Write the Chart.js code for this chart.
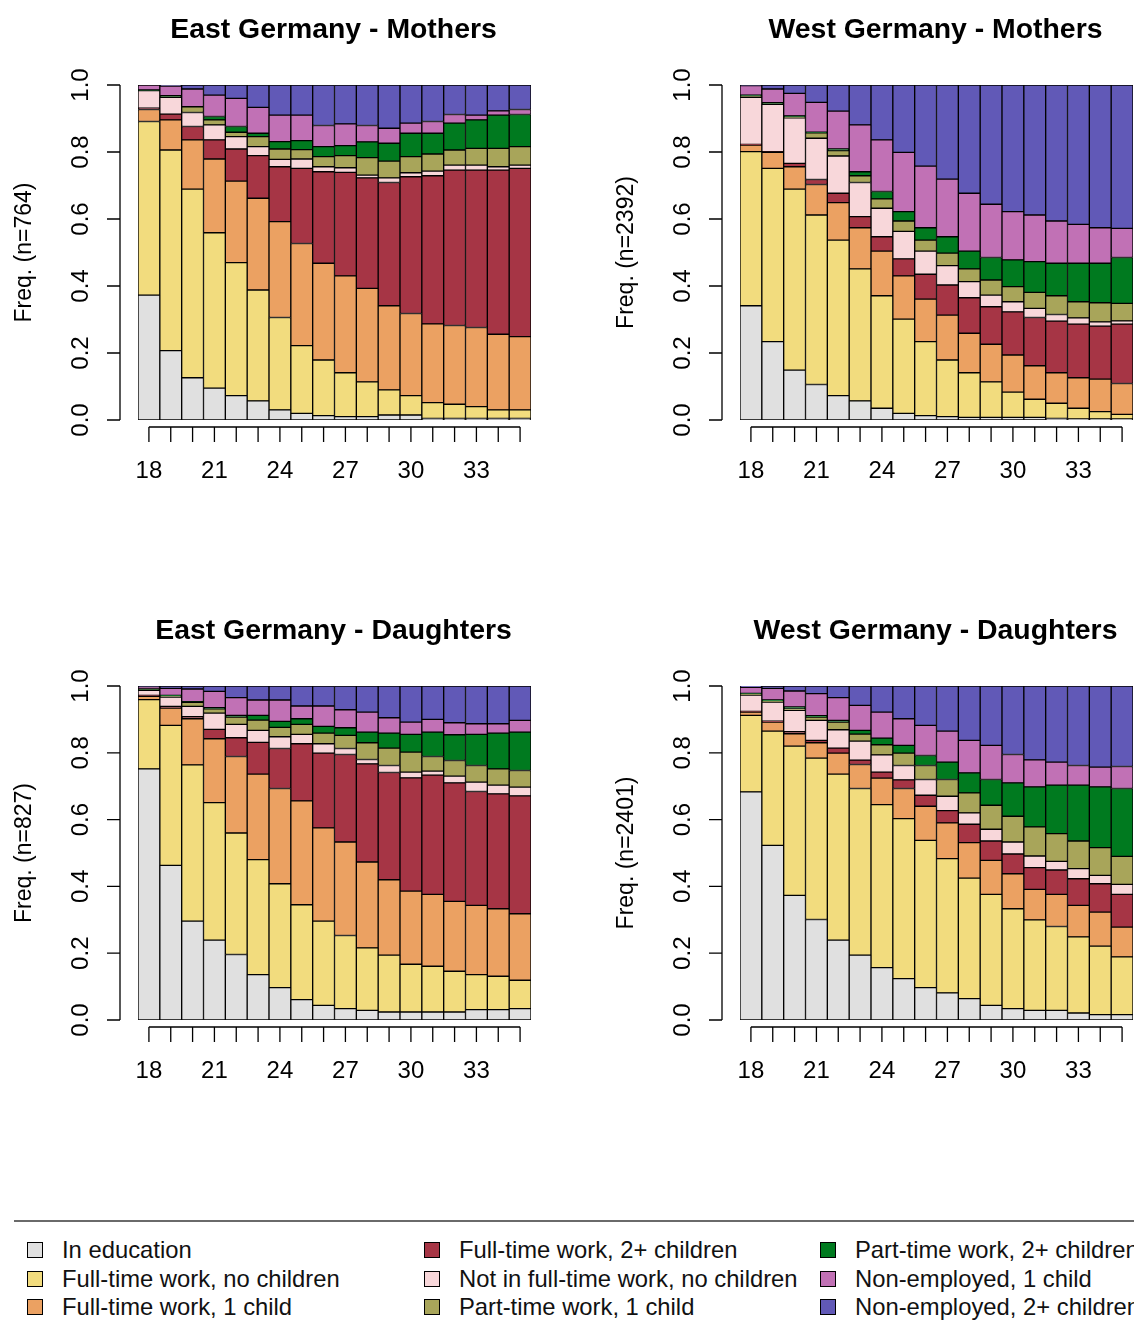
<!DOCTYPE html>
<html>
<head>
<meta charset="utf-8">
<script src="https://cdn.jsdelivr.net/npm/chart.js@4.4.1/dist/chart.umd.min.js"></script>
<style>
  html, body { margin: 0; padding: 0; background: #fff; }
  body { width: 1134px; height: 1325px; position: relative; overflow: hidden;
         font-family: "Liberation Sans", Arial, sans-serif; }
  canvas.panel { position: absolute; }
  #legendLine { position: absolute; left: 14px; top: 1220px; width: 1120px; height: 2px; background: #6a6a6a; }
  .lg { position: absolute; white-space: nowrap; font-size: 23.8px; line-height: 26px; color: #111; }
  .lgbox { position: absolute; width: 14px; height: 14px; border: 1px solid #000; }
</style>
</head>
<body>
<canvas class="panel" id="pEM" width="567" height="600" style="left:0;top:0"></canvas>
<canvas class="panel" id="pWM" width="567" height="600" style="left:567px;top:0"></canvas>
<canvas class="panel" id="pED" width="567" height="600" style="left:0;top:601px"></canvas>
<canvas class="panel" id="pWD" width="567" height="600" style="left:567px;top:601px"></canvas>
<div id="legendLine"></div>
<div id="legend"></div>
<script>
// ---------- categories & labels ----------
const ages = ['18','19','20','21','22','23','24','25','26','27','28','29','30','31','32','33','34','35'];
const xTickLabels = ['18','21','24','27','30','33'];
const yTickValues = [0, 0.2, 0.4, 0.6, 0.8, 1.0];
const yTickLabels = ['0.0','0.2','0.4','0.6','0.8','1.0'];
const stateLabels = ['In education','Full-time work, no children','Full-time work, 1 child',
  'Full-time work, 2+ children','Not in full-time work, no children','Part-time work, 1 child',
  'Part-time work, 2+ children','Non-employed, 1 child','Non-employed, 2+ children'];
const stateColors = ['#E0E0E0','#F2DC7E','#EBA162','#A63545','#F8D7DA','#A8A55A','#007A1F','#C171B5','#6159B7'];
const panelTitles = ['East Germany - Mothers','West Germany - Mothers','East Germany - Daughters','West Germany - Daughters'];
const panelYLabels = ['Freq. (n=764)','Freq. (n=2392)','Freq. (n=827)','Freq. (n=2401)'];

// ---------- East Germany - Mothers ----------
const EM_edu  = [.373,.207,.126,.095,.073,.057,.030,.020,.013,.010,.010,.015,.015,.005,.005,.005,.005,.005];
const EM_ft0  = [.518,.599,.563,.464,.397,.331,.276,.202,.166,.131,.104,.075,.058,.047,.042,.035,.025,.025];
const EM_ft1  = [.036,.090,.147,.220,.243,.274,.286,.305,.289,.289,.279,.251,.245,.235,.235,.236,.226,.219];
const EM_ft2  = [.004,.017,.040,.057,.096,.127,.164,.224,.273,.309,.330,.368,.408,.442,.464,.470,.490,.502];
const EM_nft0 = [.052,.050,.042,.045,.037,.027,.022,.028,.015,.014,.008,.014,.012,.014,.015,.015,.010,.010];
const EM_pt1  = [.000,.002,.017,.015,.013,.030,.031,.028,.030,.036,.052,.050,.048,.051,.045,.050,.055,.055];
const EM_pt2  = [.002,.003,.000,.010,.017,.010,.022,.027,.030,.030,.047,.053,.070,.062,.080,.085,.099,.096];
const EM_ne1  = [.015,.029,.053,.064,.084,.077,.079,.076,.063,.065,.049,.045,.030,.035,.026,.014,.013,.015];
const EM_ne2  = [.000,.003,.012,.030,.040,.067,.090,.090,.121,.116,.121,.129,.114,.109,.088,.090,.077,.073];

// ---------- West Germany - Mothers ----------
const WM_edu  = [.341,.234,.149,.106,.073,.057,.035,.020,.013,.010,.008,.008,.008,.008,.005,.003,.003,.003];
const WM_ft0  = [.460,.517,.540,.506,.464,.394,.336,.281,.221,.169,.133,.106,.075,.054,.045,.032,.022,.014];
const WM_ft1  = [.020,.048,.067,.091,.112,.123,.133,.129,.127,.134,.118,.112,.111,.100,.091,.091,.097,.092];
const WM_ft2  = [.002,.002,.010,.015,.028,.033,.043,.051,.074,.090,.106,.112,.129,.144,.154,.160,.158,.177];
const WM_nft0 = [.140,.141,.136,.123,.111,.102,.085,.082,.069,.058,.048,.035,.030,.027,.020,.019,.013,.010];
const WM_pt1  = [.003,.002,.003,.016,.016,.020,.028,.031,.033,.037,.038,.045,.045,.048,.056,.048,.057,.052];
const WM_pt2  = [.004,.003,.003,.002,.005,.012,.022,.028,.037,.049,.053,.067,.080,.092,.097,.115,.118,.137];
const WM_ne1  = [.028,.041,.067,.089,.113,.140,.154,.177,.184,.172,.173,.159,.144,.139,.126,.116,.106,.087];
const WM_ne2  = [.002,.012,.025,.052,.078,.119,.164,.201,.242,.281,.323,.356,.378,.388,.406,.416,.426,.428];

// ---------- East Germany - Daughters ----------
const ED_edu  = [.752,.463,.296,.239,.196,.136,.097,.061,.044,.034,.029,.024,.024,.024,.024,.031,.031,.034];
const ED_ft0  = [.207,.419,.468,.412,.364,.344,.311,.284,.252,.219,.187,.170,.143,.137,.122,.105,.100,.085];
const ED_ft1  = [.010,.052,.138,.191,.229,.256,.285,.311,.279,.280,.257,.226,.219,.215,.209,.207,.202,.199];
const ED_ft2  = [.003,.005,.006,.028,.056,.095,.120,.171,.224,.262,.294,.321,.339,.357,.355,.341,.344,.353];
const ED_nft0 = [.015,.028,.031,.049,.040,.036,.035,.028,.028,.018,.013,.021,.017,.012,.020,.028,.026,.026];
const ED_pt1  = [.002,.003,.012,.013,.022,.031,.028,.030,.032,.039,.050,.052,.060,.044,.047,.050,.049,.050];
const ED_pt2  = [.002,.002,.002,.003,.005,.014,.018,.017,.020,.023,.032,.045,.053,.073,.077,.093,.107,.115];
const ED_ne1  = [.007,.021,.038,.049,.053,.046,.064,.038,.061,.054,.060,.046,.037,.038,.036,.032,.028,.035];
const ED_ne2  = [.002,.007,.009,.016,.035,.042,.042,.060,.060,.071,.078,.095,.108,.100,.110,.113,.113,.103];

// ---------- West Germany - Daughters ----------
const WD_edu  = [.683,.523,.373,.301,.239,.194,.157,.124,.097,.081,.064,.044,.034,.029,.029,.021,.016,.016];
const WD_ft0  = [.229,.342,.447,.483,.497,.499,.488,.479,.441,.402,.361,.332,.299,.271,.251,.228,.205,.173];
const WD_ft1  = [.010,.027,.037,.046,.063,.072,.079,.090,.102,.107,.106,.102,.105,.091,.096,.094,.102,.089];
const WD_ft2  = [.002,.003,.006,.007,.015,.013,.018,.026,.033,.037,.055,.058,.059,.065,.073,.080,.085,.098];
const WD_nft0 = [.049,.057,.064,.060,.055,.057,.052,.043,.047,.043,.034,.035,.036,.035,.026,.030,.025,.030];
const WD_pt1  = [.002,.002,.005,.010,.023,.021,.030,.037,.042,.050,.060,.072,.077,.087,.083,.083,.083,.084];
const WD_pt2  = [.003,.004,.005,.004,.005,.011,.020,.023,.030,.052,.060,.077,.100,.120,.145,.167,.182,.203];
const WD_ne1  = [.018,.035,.048,.066,.068,.075,.078,.080,.090,.093,.097,.102,.085,.081,.069,.059,.059,.066];
const WD_ne2  = [.004,.007,.015,.023,.035,.058,.078,.098,.118,.135,.163,.178,.205,.221,.228,.238,.243,.241];

const panelSeries = [
  [EM_edu, EM_ft0, EM_ft1, EM_ft2, EM_nft0, EM_pt1, EM_pt2, EM_ne1, EM_ne2],
  [WM_edu, WM_ft0, WM_ft1, WM_ft2, WM_nft0, WM_pt1, WM_pt2, WM_ne1, WM_ne2],
  [ED_edu, ED_ft0, ED_ft1, ED_ft2, ED_nft0, ED_pt1, ED_pt2, ED_ne1, ED_ne2],
  [WD_edu, WD_ft0, WD_ft1, WD_ft2, WD_nft0, WD_pt1, WD_pt2, WD_ne1, WD_ne2]
];

const FONT = '"Liberation Sans", Arial, sans-serif';

// R-style axes, title and y label drawn through the chart's own scales
const rStyle = {
  id: 'rStyle',
  afterDraw(chart, args, opts) {
    const ctx = chart.ctx, a = chart.chartArea, xs = chart.scales.x, ys = chart.scales.y;
    ctx.save();
    ctx.strokeStyle = '#000';
    ctx.fillStyle = '#000';
    ctx.lineWidth = 1.3;
    // y axis (line spans 0..1 only)
    const ax = a.left - 18;
    ctx.beginPath();
    ctx.moveTo(ax, ys.getPixelForValue(0));
    ctx.lineTo(ax, ys.getPixelForValue(1));
    yTickValues.forEach(v => {
      const py = ys.getPixelForValue(v);
      ctx.moveTo(ax, py); ctx.lineTo(ax - 13, py);
    });
    // x axis (line spans first..last bar centre)
    const ay = a.bottom + 7;
    ctx.moveTo(xs.getPixelForValue(0), ay);
    ctx.lineTo(xs.getPixelForValue(ages.length - 1), ay);
    ages.forEach((g, i) => {
      const px = xs.getPixelForValue(i);
      ctx.moveTo(px, ay); ctx.lineTo(px, ay + 15);
    });
    ctx.stroke();
    // tick labels
    ctx.font = '24px ' + FONT;
    ctx.textAlign = 'center';
    ctx.textBaseline = 'middle';
    yTickValues.forEach((v, i) => {
      ctx.save();
      ctx.translate(a.left - 57, ys.getPixelForValue(v));
      ctx.rotate(-Math.PI / 2);
      ctx.fillText(yTickLabels[i], 0, 0);
      ctx.restore();
    });
    xTickLabels.forEach(l => {
      const i = ages.indexOf(l);
      ctx.fillText(l, xs.getPixelForValue(i), a.bottom + 51);
    });
    // y label
    ctx.font = '23px ' + FONT;
    ctx.save();
    ctx.translate(a.left - 113, (a.top + a.bottom) / 2);
    ctx.rotate(-Math.PI / 2);
    ctx.fillText(opts.ylab, 0, 0);
    ctx.restore();
    // title
    ctx.font = 'bold 28.4px ' + FONT;
    ctx.fillText(opts.title, (a.left + a.right) / 2 - 1, 30);
    ctx.restore();
  }
};

function makePanel(id, idx, isLeft, bottomPad) {
  const datasets = panelSeries[idx].map((vals, s) => ({
    label: stateLabels[s],
    data: vals,
    backgroundColor: stateColors[s],
    borderColor: '#000',
    borderWidth: 1,
    borderSkipped: false,
    barPercentage: 1,
    categoryPercentage: 1
  }));
  new Chart(document.getElementById(id), {
    type: 'bar',
    data: { labels: ages, datasets },
    options: {
      responsive: false,
      animation: false,
      layout: { padding: { left: isLeft ? 138 : 173, right: isLeft ? 36 : 1, top: 85, bottom: bottomPad } },
      scales: {
        x: { stacked: true, display: false },
        y: { stacked: true, display: false, min: 0, max: 1 }
      },
      plugins: {
        legend: { display: false },
        tooltip: { enabled: false },
        title: { display: false },
        rStyle: { title: panelTitles[idx], ylab: panelYLabels[idx] }
      }
    },
    plugins: [rStyle]
  });
}

makePanel('pEM', 0, true, 180);
makePanel('pWM', 1, false, 180);
makePanel('pED', 2, true, 181);
makePanel('pWD', 3, false, 181);

// legend (3 columns, column-major order)
const legendColX = [27, 424, 820];
const legendRowY = [1250, 1279, 1307];
const lg = document.getElementById('legend');
stateLabels.forEach((lab, s) => {
  const col = Math.floor(s / 3), row = s % 3;
  const box = document.createElement('div');
  box.className = 'lgbox';
  box.style.left = legendColX[col] + 'px';
  box.style.top = (legendRowY[row] - 8) + 'px';
  box.style.background = stateColors[s];
  lg.appendChild(box);
  const t = document.createElement('div');
  t.className = 'lg';
  t.style.left = (legendColX[col] + 35) + 'px';
  t.style.top = (legendRowY[row] - 13) + 'px';
  t.textContent = lab;
  lg.appendChild(t);
});
</script>
</body>
</html>
